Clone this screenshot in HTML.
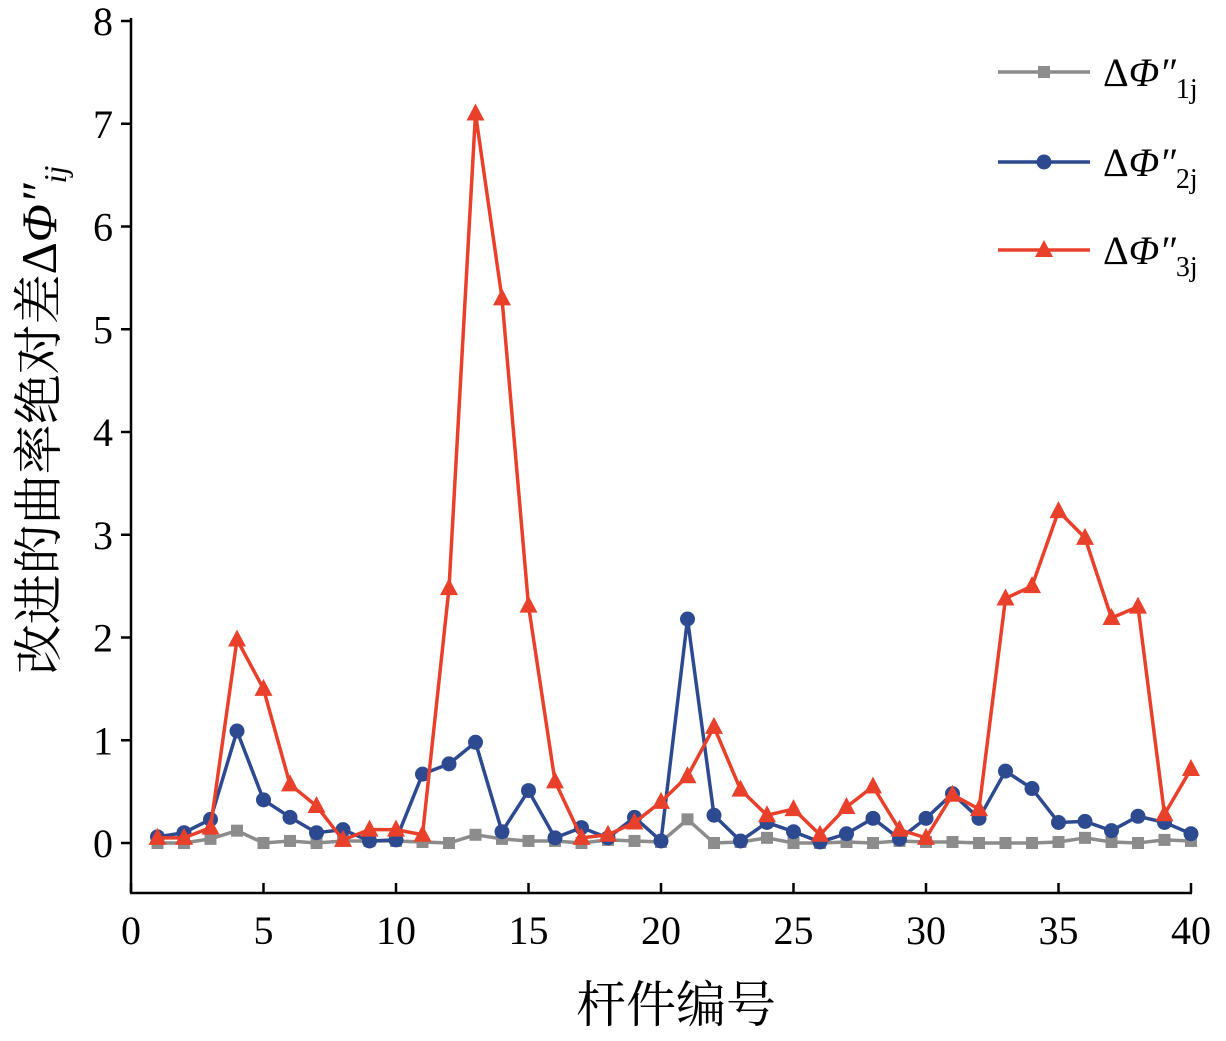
<!DOCTYPE html>
<html><head><meta charset="utf-8"><style>
body{margin:0;background:#fff}
svg text{font-family:"Liberation Serif","Noto Serif CJK SC",serif}
</style></head><body>
<svg id="chart" width="1226" height="1036" xmlns="http://www.w3.org/2000/svg"></svg>
<script>
const categories=[];for(let i=1;i<=40;i++)categories.push(i);
const series1=[0.0,0.0,0.04,0.12,0.0,0.02,0.0,0.02,0.02,0.02,0.01,0.0,0.08,0.04,0.02,0.02,0.0,0.03,0.02,0.01,0.23,0.0,0.01,0.05,0.0,0.0,0.01,0.0,0.02,0.01,0.01,0.0,0.0,0.0,0.01,0.05,0.01,0.0,0.03,0.02];
const series2=[0.06,0.10,0.23,1.09,0.42,0.25,0.10,0.13,0.02,0.03,0.67,0.77,0.98,0.11,0.51,0.05,0.15,0.05,0.25,0.02,2.18,0.27,0.02,0.20,0.11,0.01,0.09,0.24,0.04,0.24,0.48,0.24,0.70,0.53,0.20,0.21,0.12,0.26,0.20,0.09];
const series3=[0.05,0.05,0.15,1.98,1.50,0.57,0.36,0.03,0.13,0.13,0.08,2.48,7.10,5.30,2.31,0.60,0.05,0.08,0.20,0.40,0.65,1.13,0.52,0.27,0.33,0.08,0.35,0.55,0.13,0.05,0.47,0.33,2.38,2.50,3.23,2.97,2.19,2.30,0.28,0.72];
const xTicks=[0,5,10,15,20,25,30,35,40];
const yTicks=[0,1,2,3,4,5,6,7,8];
const NS="http://www.w3.org/2000/svg";
const svg=document.getElementById('chart');
const X=v=>131+v*26.5, Y=v=>843-v*102.75;
function mk(t,a,p){const e=document.createElementNS(NS,t);for(const k in a)e.setAttribute(k,a[k]);(p||svg).appendChild(e);return e;}
let e=mk('line',{x1:131,y1:18,x2:131,y2:893,stroke:'#000','stroke-width':2.5});

e=mk('line',{x1:130,y1:893,x2:1192,y2:893,stroke:'#000','stroke-width':2.5});

yTicks.forEach(v=>{mk('line',{x1:121,y1:Y(v),x2:131,y2:Y(v),stroke:'#000','stroke-width':2.5});
 const t=mk('text',{x:113,y:Y(v)+14,'font-size':40,'text-anchor':'end'});t.textContent=v;
 });
xTicks.forEach(v=>{mk('line',{x1:X(v),y1:893,x2:X(v),y2:883,stroke:'#000','stroke-width':2.5});
 const t=mk('text',{x:X(v),y:944,'font-size':40,'text-anchor':'middle'});t.textContent=v;
 });
e=mk('text',{x:676,y:1022,'font-size':50,'text-anchor':'middle'});e.textContent='杆件编号';

e=mk('text',{transform:'translate(56,420) rotate(-90)','font-size':50,'text-anchor':'middle'});
e.innerHTML='改进的曲率绝对差Δ<tspan font-style="italic">Φ″</tspan><tspan font-size="32" font-style="italic" dy="10">ij</tspan>';

function marker(g,type,x,y,c){
 if(type==='sq')mk('rect',{x:x-6,y:y-6,width:12,height:12,fill:c},g);
 else if(type==='ci')mk('circle',{cx:x,cy:y,r:7.5,fill:c},g);
 else mk('polygon',{points:`${x},${y-10} ${x-9},${y+7} ${x+9},${y+7}`,fill:c},g);}
const defs=[[series1,'#8c8c8c','sq','series-1'],[series2,'#2d4a91','ci','series-2'],[series3,'#e8402a','tr','series-3']];
defs.forEach(([d,c,m,n])=>{const g=mk('g',{});
 mk('polyline',{points:d.map((v,i)=>X(categories[i])+','+Y(v)).join(' '),fill:'none',stroke:c,'stroke-width':3.5},g);
 d.forEach((v,i)=>marker(g,m,X(categories[i]),Y(v),c));});
const legY=[72,162,250];
defs.forEach(([d,c,m,n],i)=>{const g=mk('g',{});
 mk('line',{x1:998,y1:legY[i],x2:1090,y2:legY[i],stroke:c,'stroke-width':3.5},g);marker(g,m,1044,legY[i],c);
 const t=mk('text',{x:1103,y:legY[i]+14,'font-size':40},g);
 t.innerHTML='Δ<tspan font-style="italic">Φ″</tspan><tspan font-size="28" dy="12">'+(i+1)+'j</tspan>';});
</script>
</body></html>
